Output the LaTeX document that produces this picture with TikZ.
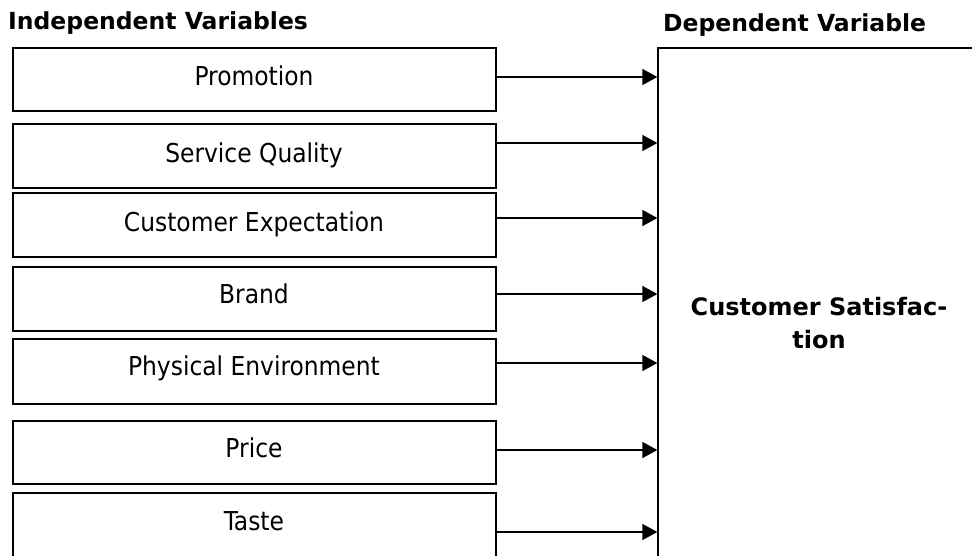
\documentclass[tikz,border=0pt]{standalone}
\usepackage{fontspec}
\setmainfont{DejaVu Sans Condensed}[BoldFont={DejaVu Sans Condensed Bold}]
\newfontfamily\widefont{DejaVu Sans}
\usetikzlibrary{arrows.meta}
\begin{document}
\begin{tikzpicture}[x=1pt,y=-1pt,
  varbox/.style={draw, line width=2pt, minimum width=483pt, inner sep=0pt},
  depbox/.style={draw, line width=1.3pt, minimum width=322pt, minimum height=552pt, inner sep=0pt},
  vartext/.style={anchor=base, inner sep=0pt, font=\fontsize{26}{30}\selectfont},
  headtext/.style={anchor=base west, inner sep=0pt, font=\widefont\bfseries\fontsize{23.5}{28}\selectfont},
  arr/.style={line width=1.3pt, -{Triangle[length=15pt,width=16pt]}}]
\useasboundingbox (0,0) rectangle (972,555);
\clip (0,0) rectangle (972,555);
\node[headtext] (hi) at (8,29.5) {Independent Variables};
\node[headtext] (hd) at (663,31) {Dependent Variable};
\node[depbox] (cs) at (819,324) {};
\node[align=center, inner sep=0pt, font=\widefont\bfseries\fontsize{24}{33}\selectfont] (cst) at (819,323) {Customer Satisfac-\\tion};
\node[varbox, minimum height=63pt] (b1) at (254,79.5) {};
\node[varbox, minimum height=64pt] (b2) at (254,156) {};
\node[varbox, minimum height=64pt] (b3) at (254,225) {};
\node[varbox, minimum height=64pt] (b4) at (254,299) {};
\node[varbox, minimum height=65pt] (b5) at (254,371.5) {};
\node[varbox, minimum height=63pt] (b6) at (254,452.5) {};
\node[varbox, minimum height=64pt] (b7) at (254,525) {};
\node[vartext] (t1) at (254,85) {Promotion};
\node[vartext] (t2) at (254,162) {Service Quality};
\node[vartext] (t3) at (254,231) {Customer Expectation};
\node[vartext] (t4) at (254,303) {Brand};
\node[vartext] (t5) at (254,375) {Physical Environment};
\node[vartext] (t6) at (254,457) {Price};
\node[vartext] (t7) at (254,530) {Taste};
\coordinate (y1) at (0,77);
\coordinate (y2) at (0,143);
\coordinate (y3) at (0,218);
\coordinate (y4) at (0,294);
\coordinate (y5) at (0,363);
\coordinate (y6) at (0,450);
\coordinate (y7) at (0,532);
\foreach \i in {1,...,7}{
  \draw[arr] (b\i.east |- y\i) -- (cs.west |- y\i);
}
\end{tikzpicture}
\end{document}
